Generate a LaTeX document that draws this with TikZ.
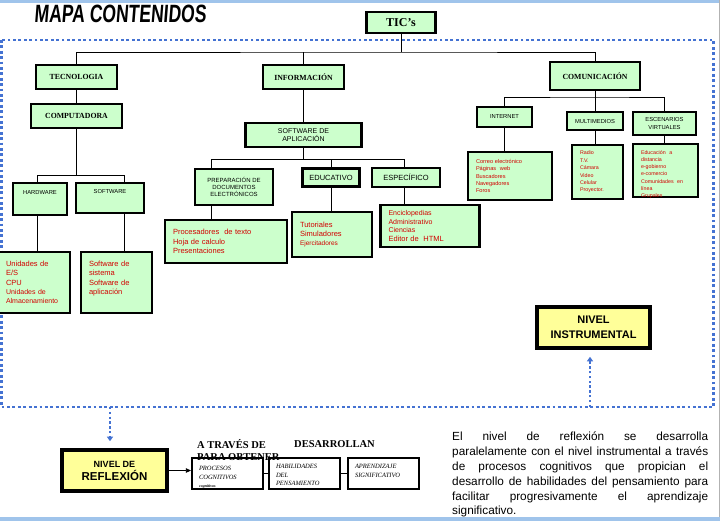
\documentclass[tikz,border=0pt]{standalone}
\usepackage{fontspec}
\setmainfont{Liberation Serif}
\setsansfont{Liberation Sans}
\newfontfamily\titlefont[FakeStretch=0.7,FakeSlant=0.08]{Liberation Sans}
\usepackage{xcolor}
\usepackage{tikz}
\usetikzlibrary{arrows.meta}
\definecolor{boxgreen}{RGB}{204,255,204}
\definecolor{boxyellow}{RGB}{255,255,153}
\definecolor{listred}{RGB}{210,0,0}
\definecolor{dotblue}{RGB}{68,114,210}
\definecolor{bandblue}{RGB}{160,196,235}

\begin{document}
\begin{tikzpicture}[x=1pt,y=-1pt,
  greenbox/.style={draw,line width=2.9pt,fill=boxgreen,inner sep=1pt},
  head/.style={greenbox,font=\fontsize{7.8}{9}\selectfont\bfseries},
  smallbox/.style={greenbox,align=center,font=\sffamily\fontsize{5.8}{7.5}\selectfont},
  itembox/.style={greenbox,align=left,text=listred,inner xsep=8pt,inner ysep=2pt},
  levelbox/.style={draw,line width=3.6pt,fill=boxyellow,align=center,font=\sffamily\bfseries},
  stepbox/.style={draw,line width=2.2pt,fill=white,align=left,inner xsep=7pt,inner ysep=0pt,text height=5pt,text width=57pt,minimum height=31pt,font=\itshape\fontsize{6.5}{8.5}\selectfont},
  branch/.style={line width=0.8pt},
  dotframe/.style={draw=dotblue,line width=2.8pt,dash pattern=on 2.8pt off 2.6pt},
  dotarrow/.style={draw=dotblue,line width=2.4pt,dash pattern=on 2.4pt off 2.4pt,shorten >=7pt,-{Triangle[width=6pt,length=4.5pt]}}]
\useasboundingbox (0,0) rectangle (720,528);
\fill[white] (0,0) rectangle (720,528);
\fill[bandblue] (0,0) rectangle (720,3);
\draw[gray!60] (719,0) -- (719,518);

\node[anchor=west,inner sep=0,font=\titlefont\bfseries\fontsize{25}{25}\selectfont] (title) at (34,14) {MAPA CONTENIDOS};

\draw[dotframe] (1.5,40) rectangle (713.5,407);

% upper tree
\node[head,minimum width=69pt,minimum height=21pt,font=\fontsize{12}{12}\selectfont\bfseries] (tics) at (401,22.5) {TIC's};
\node[head,minimum width=81pt,minimum height=24pt] (tec) at (76.5,77) {TECNOLOGIA};
\node[head,minimum width=81pt,minimum height=24pt] (inf) at (303.5,77) {INFORMACIÓN};
\node[head,minimum width=90pt,minimum height=28pt] (com) at (595,76) {COMUNICACIÓN};
\node[head,minimum width=91pt,minimum height=24pt] (comp) at (76.5,116) {COMPUTADORA};

\node[smallbox,minimum width=54pt,minimum height=32pt,text height=4pt,text depth=14pt] (hw) at (40,199) {HARDWARE};
\node[smallbox,minimum width=68pt,minimum height=30pt,text height=4pt,text depth=14pt] (sw) at (110,198) {SOFTWARE};
\node[itembox,text width=56pt,minimum height=61pt,font=\sffamily\fontsize{7.5}{9.2}\selectfont] (hwlist) at (34,282.5) {Unidades de\\E/S\\CPU\\{\fontsize{7}{8}\selectfont Unidades de}\\{\fontsize{7}{8}\selectfont Almacenamiento}};
\node[itembox,text width=55pt,minimum height=61pt,font=\sffamily\fontsize{7.5}{9.4}\selectfont] (swlist) at (116.5,282.5) {Software de\\sistema\\Software de\\aplicación\\\mbox{}};

\node[smallbox,minimum width=116pt,minimum height=24pt,font=\sffamily\fontsize{7}{8.5}\selectfont] (swapp) at (303.5,135) {SOFTWARE DE\\APLICACIÓN};
\node[smallbox,minimum width=78pt,minimum height=36pt,font=\sffamily\fontsize{6}{7.2}\selectfont] (prep) at (234,187) {PREPARACIÓN DE\\DOCUMENTOS\\ELECTRÓNICOS};
\node[smallbox,minimum width=57pt,minimum height=18pt,font=\sffamily\fontsize{7.5}{9}\selectfont] (edu) at (331,177.5) {EDUCATIVO};
\node[smallbox,minimum width=68pt,minimum height=19pt,font=\sffamily\fontsize{7.5}{9}\selectfont] (esp) at (406,177.5) {ESPECÍFICO};
\node[itembox,text width=106pt,minimum height=43pt,font=\sffamily\fontsize{7.5}{9.3}\selectfont] (preplist) at (226,241.5) {Procesadores\ \ de texto\\Hoja de calculo\\Presentaciones};
\node[itembox,text width=64pt,minimum height=45pt,font=\sffamily\fontsize{7.5}{9}\selectfont] (edulist) at (332,234.5) {Tutoriales\\Simuladores\\{\fontsize{6.5}{8}\selectfont Ejercitadores}};
\node[itembox,text width=83pt,minimum height=42pt,font=\sffamily\fontsize{7}{8.6}\selectfont] (esplist) at (430,226) {Enciclopedias\\Administrativo\\Ciencias\\{\fontsize{7.5}{9}\selectfont Editor de\ \ HTML}};

\node[smallbox,minimum width=55pt,minimum height=20pt] (internet) at (504.5,117) {INTERNET};
\node[smallbox,minimum width=56pt,minimum height=18pt] (multi) at (595,121) {MULTIMEDIOS};
\node[smallbox,minimum width=63pt,minimum height=23pt] (escen) at (664.5,123.5) {ESCENARIOS\\VIRTUALES};
\node[itembox,text width=68pt,minimum height=48pt,font=\sffamily\fontsize{5.6}{7.2}\selectfont] (netlist) at (510,176) {Correo electrónico\\Páginas\ \ web\\Buscadores\\Navegadores\\Foros};
\node[itembox,text width=35pt,minimum height=54pt,font=\sffamily\fontsize{5.3}{7.4}\selectfont] (multilist) at (597.5,172) {Radio\\T.V.\\Cámara\\Video\\Celular\\Proyector.};
\node[itembox,text width=49pt,minimum height=53pt,inner ysep=0pt,text height=4pt,text depth=37pt,font=\sffamily\fontsize{5.3}{7.3}\selectfont] (escenlist) at (665.5,170.5) {Educación\ \ a\\distancia\\e-gobierno\\e-comercio\\Comunidades\ \ en\\línea\\Grupales};

\coordinate (topbus) at (401,52);
\draw[branch] (tics) -- (topbus);
\draw[branch] (tec.north) |- (topbus) -| (com.north);
\draw[branch] (inf.north) -- (inf.north |- topbus);
\draw[branch] (tec) -- (comp);

\coordinate (hwbus) at (37,175);
\coordinate (swbus) at (124,175);
\draw[branch] (comp.south) -- (comp.south |- hwbus);
\draw[branch] (hw.north -| hwbus) |- (swbus) -- (sw.north -| swbus);
\draw[branch] (hw.south -| hwbus) -- (hwlist.north -| hwbus);
\draw[branch] (sw.south -| swbus) -- (swlist.north -| swbus);

\coordinate (infbus) at (303.5,159);
\coordinate (prepdrop) at (211,159);
\coordinate (espdrop) at (404,159);
\draw[branch] (inf) -- (swapp);
\draw[branch] (swapp) -- (infbus);
\draw[branch] (prep.north -| prepdrop) |- (espdrop) -- (esp.north -| espdrop);
\draw[branch] (edu.north) -- (edu.north |- infbus);
\draw[branch] (prep.south -| prepdrop) -- (preplist.north -| prepdrop);
\draw[branch] (edu.south) -- (edu.south |- edulist.north);
\draw[branch] (esp.south -| espdrop) -- (esplist.north -| espdrop);

\coordinate (combus) at (595,97);
\draw[branch] (com) -- (combus);
\draw[branch] (internet.north) |- (combus) -| (escen.north);
\draw[branch] (multi) -- (combus);
\draw[branch] (internet) -- (internet |- netlist.north);
\draw[branch] (multi) -- (multi |- multilist.north);
\draw[branch] (escen) -- (escen |- escenlist.north);

% levels
\node[levelbox,minimum width=113pt,minimum height=41pt,font=\sffamily\bfseries\fontsize{11}{14.5}\selectfont] (instr) at (593.5,327.5) {NIVEL\\INSTRUMENTAL};
\node[levelbox,minimum width=105pt,minimum height=41pt,font=\sffamily\bfseries\fontsize{11.5}{13}\selectfont] (refl) at (114.5,470.5) {{\fontsize{9}{11}\selectfont NIVEL DE}\\REFLEXIÓN};
\coordinate (reflfoot) at (110,407);
\coordinate (instrfoot) at (590,407);
\draw[dotarrow] (reflfoot) -- (refl.north -| reflfoot);
\draw[dotarrow] (instrfoot) -- (instr.south -| instrfoot);

\node[stepbox,text depth=11pt] (proc) at (227.5,473.5) {PROCESOS\\COGNITIVOS\\{\fontsize{4}{4}\selectfont\bfseries cognitivos}};
\node[stepbox,text depth=15pt] (habil) at (304.5,473.5) {HABILIDADES\\DEL\\PENSAMIENTO};
\node[stepbox,text depth=15pt] (aprend) at (383.5,473.5) {APRENDIZAJE\\SIGNIFICATIVO};
\draw[branch,-{Triangle[length=5pt,width=4.5pt]}] (refl.east) -- (refl.east -| proc.west);
\draw[branch] (proc) -- (habil);
\draw[branch] (habil) -- (aprend);

\node[anchor=west,inner sep=0,font=\bfseries\fontsize{10.5}{12}\selectfont] (via) at (197,444) {A TRAVÉS DE};
\node[anchor=west,inner sep=0,font=\bfseries\fontsize{10.5}{12}\selectfont] (develop) at (294,444) {DESARROLLAN};
\node[anchor=west,inner sep=0,font=\bfseries\fontsize{10.5}{12}\selectfont] (obtain) at (197,457.5) {PARA OBTENER};

\node[anchor=north west,inner sep=0,text width=256pt,align=justify,font=\sffamily\fontsize{11.8}{14.8}\selectfont] (note) at (452,432) {El nivel de reflexión se desarrolla\linebreak paralelamente con el nivel instrumental a través\linebreak de procesos cognitivos que propician el\linebreak desarrollo de habilidades del pensamiento para\linebreak facilitar progresivamente el aprendizaje\linebreak significativo.};

\fill[bandblue] (0,516.5) rectangle (720,520.5);
\end{tikzpicture}
\end{document}
